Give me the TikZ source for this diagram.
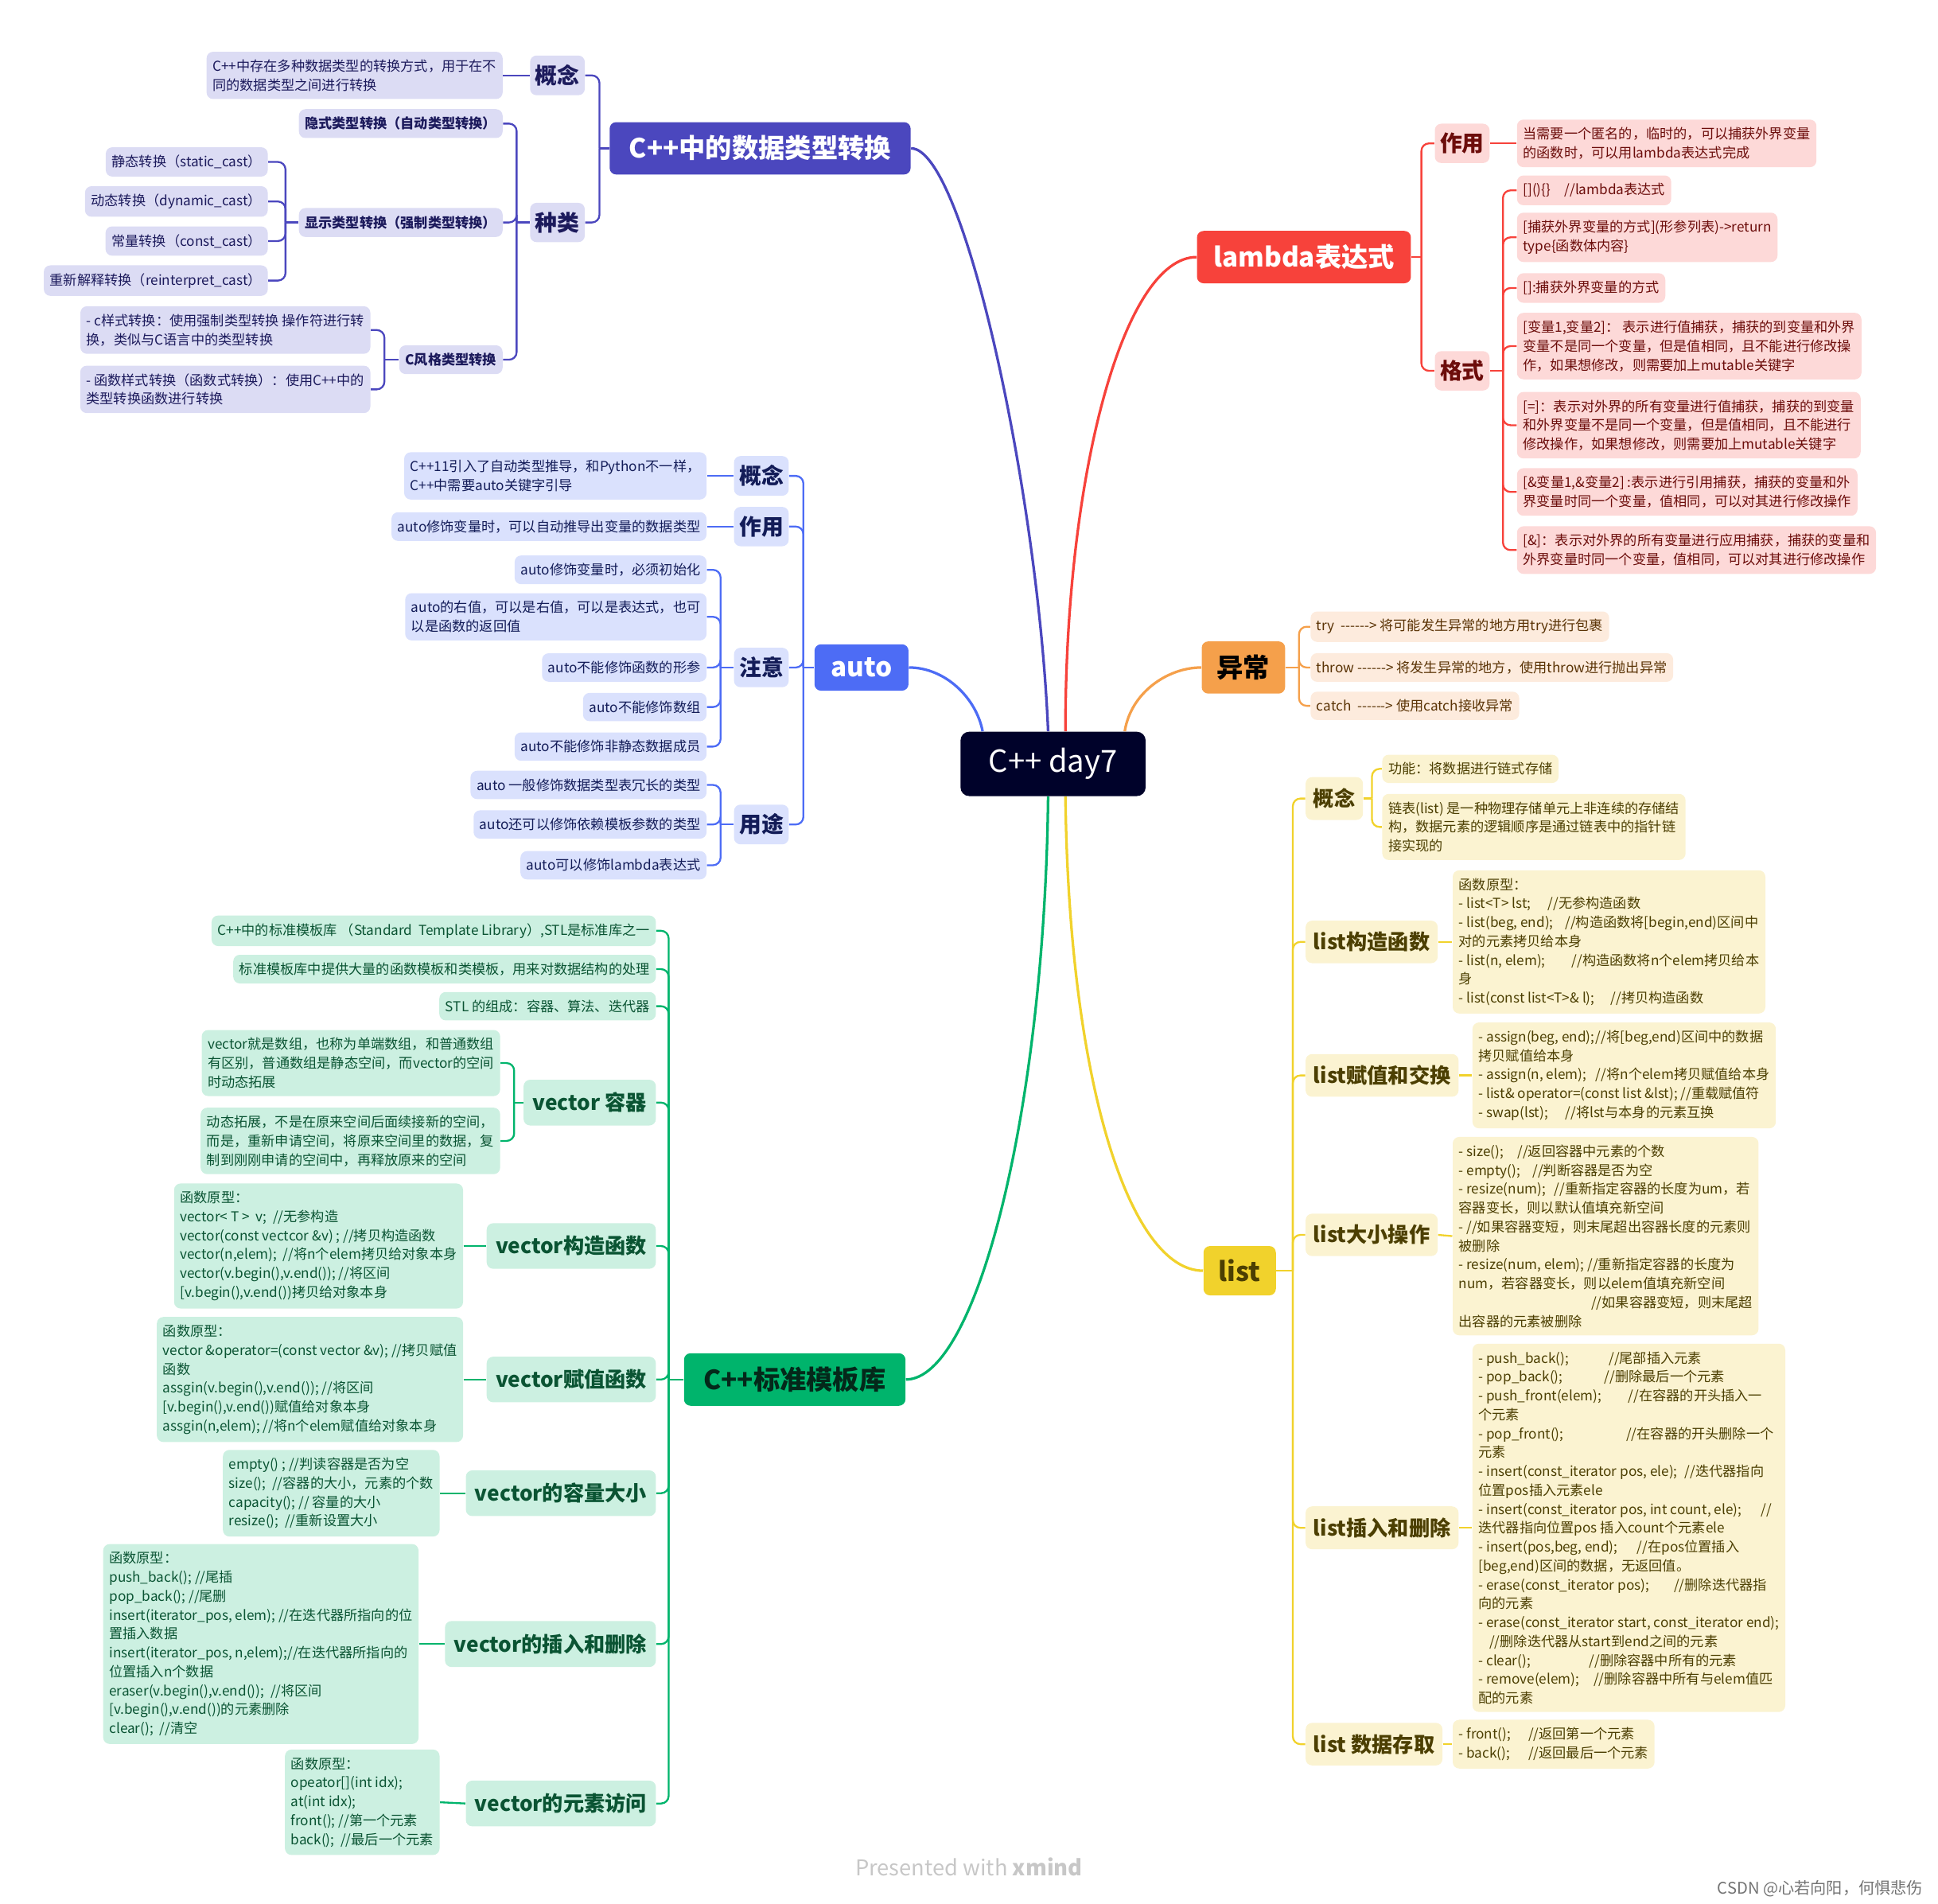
\documentclass[tikz,border=0pt]{standalone}
\usepackage{fontspec}
\setmainfont{Noto Sans CJK SC}[Ligatures=TeXOff]
\usepackage{xcolor}
\usetikzlibrary{calc}

\definecolor{rootfill}{HTML}{00022A}
\definecolor{convmain}{HTML}{4B47BE}
\definecolor{convfill}{HTML}{DCDCF4}
\definecolor{convtext}{HTML}{1C1A5C}
\definecolor{automain}{HTML}{4D6CF5}
\definecolor{autofill}{HTML}{DAE1FD}
\definecolor{autotext}{HTML}{131C58}
\definecolor{stlmain}{HTML}{00B46C}
\definecolor{stlfill}{HTML}{CCF0E1}
\definecolor{stltext}{HTML}{0A5433}
\definecolor{stltop}{HTML}{04281A}
\definecolor{lammain}{HTML}{F7423B}
\definecolor{lamfill}{HTML}{FDD9D8}
\definecolor{lamtext}{HTML}{6C0D0B}
\definecolor{excmain}{HTML}{F5A04B}
\definecolor{excfill}{HTML}{FDEBDD}
\definecolor{exctext}{HTML}{5A3305}
\definecolor{lstmain}{HTML}{F1D22C}
\definecolor{lstfill}{HTML}{FBF3D1}
\definecolor{lsttext}{HTML}{4C3F02}

\newcommand{\leaftxt}{\fontsize{6.3}{8.7}\selectfont}
\newcommand{\midtxt}{\fontsize{10.2}{12}\selectfont\bfseries}
\newcommand{\stltxt}{\fontsize{9.6}{12}\selectfont\bfseries}
\newcommand{\lsttxt}{\fontsize{9.6}{12}\selectfont\bfseries}
\newcommand{\toptxt}{\fontsize{12.2}{14}\selectfont\bfseries}
\newcommand{\roottxt}{\fontsize{14}{16}\selectfont}

\begin{document}
\begin{tikzpicture}[x=0.02cm, y=-0.02cm,
  box/.style={rounded corners=3pt, align=left, inner xsep=2.8pt, inner ysep=3.6pt},
  leaf/.style={box, font=\leaftxt},
  boldleaf/.style={box, font=\leaftxt\bfseries},
  sub/.style={box, font=\midtxt, inner xsep=2.4pt, inner ysep=4.2pt},
  stlsub/.style={box, font=\stltxt, inner xsep=4.2pt, inner ysep=5.9pt},
  lstsub/.style={box, font=\lsttxt, inner xsep=3.6pt, inner ysep=5.2pt},
  topic/.style={box, font=\toptxt, inner xsep=9pt, inner ysep=6.2pt},
  rootbox/.style={box, fill=rootfill, text=white, font=\roottxt, inner xsep=13pt, inner ysep=7.6pt, rounded corners=4pt},
  convc/.style={fill=convfill, text=convtext},
  autoc/.style={fill=autofill, text=autotext},
  stlc/.style={fill=stlfill, text=stltext},
  lamc/.style={fill=lamfill, text=lamtext},
  excc/.style={fill=excfill, text=exctext},
  lstc/.style={fill=lstfill, text=lsttext},
  trunk/.style={line width=1.2pt},
  twig/.style={line width=0.85pt, rounded corners=3.5pt},
  convline/.style={twig, draw=convmain},
  autoline/.style={twig, draw=automain},
  stlline/.style={twig, draw=stlmain},
  lamline/.style={twig, draw=lammain},
  excline/.style={twig, draw=excmain},
  lstline/.style={twig, draw=lstmain}]

\useasboundingbox (0,0) rectangle (1568,1540);

% centre
\node[rootbox] (root) at (852,618) {C++ day7};

% ---- data type conversion
\node[topic, fill=convmain, text=white] (conv) at (615,120) {C++中的数据类型转换};
\node[sub, convc] (convIdea) at (451,61) {概念};
\node[sub, convc] (convKind) at (451,180) {种类};
\node[leaf, convc, anchor=east] (convIdeaTxt) at (407,61) {C++中存在多种数据类型的转换方式，用于在不\\同的数据类型之间进行转换};
\node[boldleaf, convc, anchor=east] (implicit) at (407,100) {隐式类型转换（自动类型转换）};
\node[boldleaf, convc, anchor=east] (explicit) at (407,180) {显示类型转换（强制类型转换）};
\node[boldleaf, convc, anchor=east] (cstyle) at (407,291) {C风格类型转换};
\node[leaf, convc, anchor=east] (static) at (217,131) {静态转换（static\_cast）};
\node[leaf, convc, anchor=east] (dynamic) at (217,163) {动态转换（dynamic\_cast）};
\node[leaf, convc, anchor=east] (constc) at (217,195) {常量转换（const\_cast）};
\node[leaf, convc, anchor=east] (reinterp) at (217,227) {重新解释转换（reinterpret\_cast）};
\node[leaf, convc, anchor=east] (cstyleA) at (300,267) {- c样式转换：使用强制类型转换 操作符进行转\\换，类似与C语言中的类型转换};
\node[leaf, convc, anchor=east] (cstyleB) at (300,315) {- 函数样式转换（函数式转换）：使用C++中的\\类型转换函数进行转换};
\coordinate (convJ) at (485,120);
\coordinate (kindJ) at (418,180);
\coordinate (explJ) at (231,180);
\coordinate (cstyJ) at (311,291);

\draw[trunk, convmain] ($(root.north)+(-4,0)$) .. controls (840,400) and (780,120) .. (conv.east);
\draw[convline] (conv.west) -- (convJ);
\foreach \n in {convIdea,convKind} \draw[convline] (\n.east) -| (convJ);
\draw[convline] (convIdeaTxt.east) -- (convIdea.west);
\draw[convline] (convKind.west) -- (kindJ);
\foreach \n in {implicit,explicit,cstyle} \draw[convline] (\n.east) -| (kindJ);
\draw[convline] (explicit.west) -- (explJ);
\foreach \n in {static,dynamic,constc,reinterp} \draw[convline] (\n.east) -| (explJ);
\draw[convline] (cstyle.west) -- (cstyJ);
\foreach \n in {cstyleA,cstyleB} \draw[convline] (\n.east) -| (cstyJ);

% ---- auto
\node[topic, fill=automain, text=white, inner xsep=7.5pt] (autoT) at (697,540) {auto};
\node[sub, autoc] (autoIdea) at (616,385) {概念};
\node[sub, autoc] (autoUse) at (616,426) {作用};
\node[sub, autoc] (autoNote) at (616,540) {注意};
\node[sub, autoc] (autoApply) at (616,667) {用途};
\node[leaf, autoc, anchor=east] (autoIdeaTxt) at (572,385) {C++11引入了自动类型推导，和Python不一样，\\C++中需要auto关键字引导};
\node[leaf, autoc, anchor=east] (autoUseTxt) at (572,426) {auto修饰变量时，可以自动推导出变量的数据类型};
\node[leaf, autoc, anchor=east] (noteA) at (572,461) {auto修饰变量时，必须初始化};
\node[leaf, autoc, anchor=east] (noteB) at (572,499) {auto的右值，可以是右值，可以是表达式，也可\\以是函数的返回值};
\node[leaf, autoc, anchor=east] (noteC) at (572,540) {auto不能修饰函数的形参};
\node[leaf, autoc, anchor=east] (noteD) at (572,572) {auto不能修饰数组};
\node[leaf, autoc, anchor=east] (noteE) at (572,604) {auto不能修饰非静态数据成员};
\node[leaf, autoc, anchor=east] (applyA) at (572,635) {auto 一般修饰数据类型表冗长的类型};
\node[leaf, autoc, anchor=east] (applyB) at (572,667) {auto还可以修饰依赖模板参数的类型};
\node[leaf, autoc, anchor=east] (applyC) at (572,700) {auto可以修饰lambda表达式};
\coordinate (autoJ) at (650,540);
\coordinate (noteJ) at (583,540);
\coordinate (applyJ) at (583,667);

\draw[trunk, automain] ($(root.north)+(-57,0)$) .. controls (790,565) and (765,540) .. (autoT.east);
\draw[autoline] (autoT.west) -- (autoJ);
\foreach \n in {autoIdea,autoUse,autoNote,autoApply} \draw[autoline] (\n.east) -| (autoJ);
\draw[autoline] (autoIdeaTxt.east) -- (autoIdea.west);
\draw[autoline] (autoUseTxt.east) -- (autoUse.west);
\draw[autoline] (autoNote.west) -- (noteJ);
\foreach \n in {noteA,noteB,noteC,noteD,noteE} \draw[autoline] (\n.east) -| (noteJ);
\draw[autoline] (autoApply.west) -- (applyJ);
\foreach \n in {applyA,applyB,applyC} \draw[autoline] (\n.east) -| (applyJ);

% ---- STL
\node[topic, fill=stlmain, text=stltop] (stl) at (643,1116) {C++标准模板库};
\node[leaf, stlc, anchor=east] (stlA) at (531,753) {C++中的标准模板库 （Standard\ \ Template Library）,STL是标准库之一};
\node[leaf, stlc, anchor=east] (stlB) at (531,784) {标准模板库中提供大量的函数模板和类模板，用来对数据结构的处理};
\node[leaf, stlc, anchor=east] (stlC) at (531,814) {STL 的组成：容器、算法、迭代器};
\node[stlsub, stlc, anchor=east] (vec) at (531,892) {vector 容器};
\node[stlsub, stlc, anchor=east] (vecCtor) at (531,1008) {vector构造函数};
\node[stlsub, stlc, anchor=east] (vecAssign) at (531,1116) {vector赋值函数};
\node[stlsub, stlc, anchor=east] (vecSize) at (531,1208) {vector的容量大小};
\node[stlsub, stlc, anchor=east] (vecIns) at (531,1330) {vector的插入和删除};
\node[stlsub, stlc, anchor=east] (vecAcc) at (531,1459) {vector的元素访问};
\node[leaf, stlc, anchor=east] (vecA) at (405,860) {vector就是数组，也称为单端数组，和普通数组\\有区别，普通数组是静态空间，而vector的空间\\时动态拓展};
\node[leaf, stlc, anchor=east] (vecB) at (405,923) {动态拓展，不是在原来空间后面续接新的空间，\\而是，重新申请空间，将原来空间里的数据，复\\制到刚刚申请的空间中，再释放原来的空间};
\node[leaf, stlc, anchor=east] (vecCtorTxt) at (375,1008) {函数原型：\\vector< T >\ \ v;\ \ //无参构造\\vector(const vectcor \&v) ; //拷贝构造函数\\vector(n,elem);\ \ //将n个elem拷贝给对象本身\\vector(v.begin(),v.end()); //将区间\\{}[v.begin(),v.end())拷贝给对象本身};
\node[leaf, stlc, anchor=east] (vecAssignTxt) at (375,1116) {函数原型：\\vector \&operator=(const vector \&v); //拷贝赋值\\函数\\assgin(v.begin(),v.end()); //将区间\\{}[v.begin(),v.end())赋值给对象本身\\assgin(n,elem); //将n个elem赋值给对象本身};
\node[leaf, stlc, anchor=east] (vecSizeTxt) at (356,1208) {empty() ; //判读容器是否为空\\size();\ \ //容器的大小，元素的个数\\capacity(); // 容量的大小\\resize();\ \ //重新设置大小};
\node[leaf, stlc, anchor=east] (vecInsTxt) at (339,1330) {函数原型：\\push\_back(); //尾插\\pop\_back(); //尾删\\insert(iterator\_pos, elem); //在迭代器所指向的位\\置插入数据\\insert(iterator\_pos, n,elem);//在迭代器所指向的\\位置插入n个数据\\eraser(v.begin(),v.end());\ \ //将区间\\{}[v.begin(),v.end())的元素删除\\clear();\ \ //清空};
\node[leaf, stlc, anchor=east] (vecAccTxt) at (356,1458) {函数原型：\\opeator[](int idx);\\at(int idx);\\front(); //第一个元素\\back();\ \ //最后一个元素};
\coordinate (stlJ) at (541,1116);
\coordinate (vecJ) at (416,892);

\draw[trunk, stlmain] ($(root.south)+(-4,0)$) .. controls (845,900) and (790,1116) .. (stl.east);
\draw[stlline] (stl.west) -- (stlJ);
\foreach \n in {stlA,stlB,stlC,vec,vecCtor,vecAssign,vecSize,vecIns,vecAcc} \draw[stlline] (\n.east) -| (stlJ);
\draw[stlline] (vec.west) -- (vecJ);
\foreach \n in {vecA,vecB} \draw[stlline] (\n.east) -| (vecJ);
\draw[stlline] (vecCtorTxt.east) -- (vecCtor.west);
\draw[stlline] (vecAssignTxt.east) -- (vecAssign.west);
\draw[stlline] (vecSizeTxt.east) -- (vecSize.west);
\draw[stlline] (vecInsTxt.east) -- (vecIns.west);
\draw[stlline] (vecAccTxt.east) -- (vecAcc.west);

% ---- lambda
\node[topic, fill=lammain, text=white, inner xsep=7.5pt] (lam) at (1055,208) {lambda表达式};
\node[sub, lamc] (lamUse) at (1183,116) {作用};
\node[sub, lamc] (lamFmt) at (1183,300) {格式};
\node[leaf, lamc, anchor=west] (lamUseTxt) at (1227,116) {当需要一个匿名的，临时的，可以捕获外界变量\\的函数时，可以用lambda表达式完成};
\node[leaf, lamc, anchor=west] (fmtA) at (1227,154) {[]()\{\}\quad //lambda表达式};
\node[leaf, lamc, anchor=west] (fmtB) at (1227,192) {[捕获外界变量的方式](形参列表)->return\\type\{函数体内容\}};
\node[leaf, lamc, anchor=west] (fmtC) at (1227,233) {[]:捕获外界变量的方式};
\node[leaf, lamc, anchor=west] (fmtD) at (1227,280) {[变量1,变量2]： 表示进行值捕获，捕获的到变量和外界\\变量不是同一个变量，但是值相同，且不能进行修改操\\作，如果想修改，则需要加上mutable关键字};
\node[leaf, lamc, anchor=west] (fmtE) at (1227,344) {[=]：表示对外界的所有变量进行值捕获，捕获的到变量\\和外界变量不是同一个变量，但是值相同，且不能进行\\修改操作，如果想修改，则需要加上mutable关键字};
\node[leaf, lamc, anchor=west] (fmtF) at (1227,398) {[\&变量1,\&变量2] :表示进行引用捕获，捕获的变量和外\\界变量时同一个变量，值相同，可以对其进行修改操作};
\node[leaf, lamc, anchor=west] (fmtG) at (1227,445) {[\&]：表示对外界的所有变量进行应用捕获，捕获的变量和\\外界变量时同一个变量，值相同，可以对其进行修改操作};
\coordinate (lamJ) at (1150,208);
\coordinate (fmtJ) at (1216,300);

\draw[trunk, lammain] ($(root.north)+(10,0)$) .. controls (862,380) and (910,208) .. (lam.west);
\draw[lamline] (lam.east) -- (lamJ);
\foreach \n in {lamUse,lamFmt} \draw[lamline] (\n.west) -| (lamJ);
\draw[lamline] (lamUse.east) -- (lamUseTxt.west);
\draw[lamline] (lamFmt.east) -- (fmtJ);
\foreach \n in {fmtA,fmtB,fmtC,fmtD,fmtE,fmtF,fmtG} \draw[lamline] (\n.west) -| (fmtJ);

% ---- exceptions
\node[topic, fill=excmain, text=black, inner xsep=7pt] (exc) at (1006,540) {异常};
\node[leaf, excc, anchor=west] (excTry) at (1060,507) {try\ \ ------> 将可能发生异常的地方用try进行包裹};
\node[leaf, excc, anchor=west] (excThrow) at (1060,540) {throw ------> 将发生异常的地方，使用throw进行抛出异常};
\node[leaf, excc, anchor=west] (excCatch) at (1060,571) {catch\ \ ------> 使用catch接收异常};
\coordinate (excJ) at (1051,540);

\draw[trunk, excmain] ($(root.north)+(58,0)$) .. controls (915,560) and (945,540) .. (exc.west);
\draw[excline] (exc.east) -- (excJ);
\foreach \n in {excTry,excThrow,excCatch} \draw[excline] (\n.west) -| (excJ);

% ---- list
\node[topic, fill=lstmain, text=lsttext, inner xsep=7pt] (lst) at (1003,1028) {list};
\node[lstsub, lstc, anchor=west] (lstIdea) at (1056,646) {概念};
\node[lstsub, lstc, anchor=west] (lstCtor) at (1056,762) {list构造函数};
\node[lstsub, lstc, anchor=west] (lstAssign) at (1056,870) {list赋值和交换};
\node[lstsub, lstc, anchor=west] (lstSize) at (1056,999) {list大小操作};
\node[lstsub, lstc, anchor=west] (lstIns) at (1056,1236) {list插入和删除};
\node[lstsub, lstc, anchor=west] (lstAcc) at (1056,1411) {list 数据存取};
\node[leaf, lstc, anchor=west] (ideaA) at (1118,622) {功能：将数据进行链式存储};
\node[leaf, lstc, anchor=west] (ideaB) at (1118,669) {链表(list) 是一种物理存储单元上非连续的存储结\\构，数据元素的逻辑顺序是通过链表中的指针链\\接实现的};
\node[leaf, lstc, anchor=west] (lstCtorTxt) at (1175,762) {函数原型：\\\makebox[41pt][l]{- list<T> lst;}//无参构造函数\\\makebox[49pt][l]{- list(beg, end);}//构造函数将[begin,end)区间中\\对的元素拷贝给本身\\\makebox[52pt][l]{- list(n, elem);}//构造函数将n个elem拷贝给本\\身\\\makebox[70pt][l]{- list(const list<T>\& l);}//拷贝构造函数};
\node[leaf, lstc, anchor=west] (lstAssignTxt) at (1191,870) {\makebox[54pt][l]{- assign(beg, end);}//将[beg,end)区间中的数据\\拷贝赋值给本身\\\makebox[54pt][l]{- assign(n, elem);}//将n个elem拷贝赋值给本身\\- list\& operator=(const list \&lst); //重载赋值符\\\makebox[40pt][l]{- swap(lst);}//将lst与本身的元素互换};
\node[leaf, lstc, anchor=west] (lstSizeTxt) at (1175,1000) {\makebox[27pt][l]{- size();}//返回容器中元素的个数\\\makebox[34pt][l]{- empty();}//判断容器是否为空\\\makebox[44pt][l]{- resize(num);}//重新指定容器的长度为um，若\\容器变长，则以默认值填充新空间\\- //如果容器变短，则末尾超出容器长度的元素则\\被删除\\- resize(num, elem); //重新指定容器的长度为\\num，若容器变长，则以elem值填充新空间\\\hspace*{61pt}//如果容器变短，则末尾超\\出容器的元素被删除};
\node[leaf, lstc, anchor=west] (lstInsTxt) at (1191,1236) {\makebox[60pt][l]{- push\_back();}//尾部插入元素\\\makebox[58pt][l]{- pop\_back();}//删除最后一个元素\\\makebox[69pt][l]{- push\_front(elem);}//在容器的开头插入一\\个元素\\\makebox[68pt][l]{- pop\_front();}//在容器的开头删除一个\\元素\\\makebox[95pt][l]{- insert(const\_iterator pos, ele);}//迭代器指向\\位置pos插入元素ele\\\makebox[130pt][l]{- insert(const\_iterator pos, int count, ele);}//\\迭代器指向位置pos 插入count个元素ele\\\makebox[73pt][l]{- insert(pos,beg, end);}//在pos位置插入\\{}[beg,end)区间的数据，无返回值。\\\makebox[90pt][l]{- erase(const\_iterator pos);}//删除迭代器指\\向的元素\\- erase(const\_iterator start, const\_iterator end);\\\hspace*{5pt}//删除迭代器从start到end之间的元素\\\makebox[51pt][l]{- clear();}//删除容器中所有的元素\\\makebox[53pt][l]{- remove(elem);}//删除容器中所有与elem值匹\\配的元素};
\node[leaf, lstc, anchor=west] (lstAccTxt) at (1175,1411) {\makebox[32pt][l]{- front();}//返回第一个元素\\\makebox[32pt][l]{- back();}//返回最后一个元素};
\coordinate (lstJ) at (1046,1028);
\coordinate (ideaJ) at (1110,646);

\draw[trunk, lstmain] ($(root.south)+(10,0)$) .. controls (865,880) and (915,1028) .. (lst.west);
\draw[lstline] (lst.east) -- (lstJ);
\foreach \n in {lstIdea,lstCtor,lstAssign,lstSize,lstIns,lstAcc} \draw[lstline] (\n.west) -| (lstJ);
\draw[lstline] (lstIdea.east) -- (ideaJ);
\foreach \n in {ideaA,ideaB} \draw[lstline] (\n.west) -| (ideaJ);
\draw[lstline] (lstCtor.east) -- (lstCtorTxt.west);
\draw[lstline] (lstAssign.east) -- (lstAssignTxt.west);
\draw[lstline] (lstSize.east) -- (lstSizeTxt.west);
\draw[lstline] (lstIns.east) -- (lstInsTxt.west);
\draw[lstline] (lstAcc.east) -- (lstAccTxt.west);

% footer
\node[text=black!22, font=\fontsize{10}{12}\selectfont] (credit) at (784,1510) {Presented with \textbf{xmind}};
\node[text=black!55, font=\fontsize{7.4}{9}\selectfont, anchor=east] (mark) at (1562,1528) {CSDN @心若向阳，何惧悲伤};
\end{tikzpicture}
\end{document}
